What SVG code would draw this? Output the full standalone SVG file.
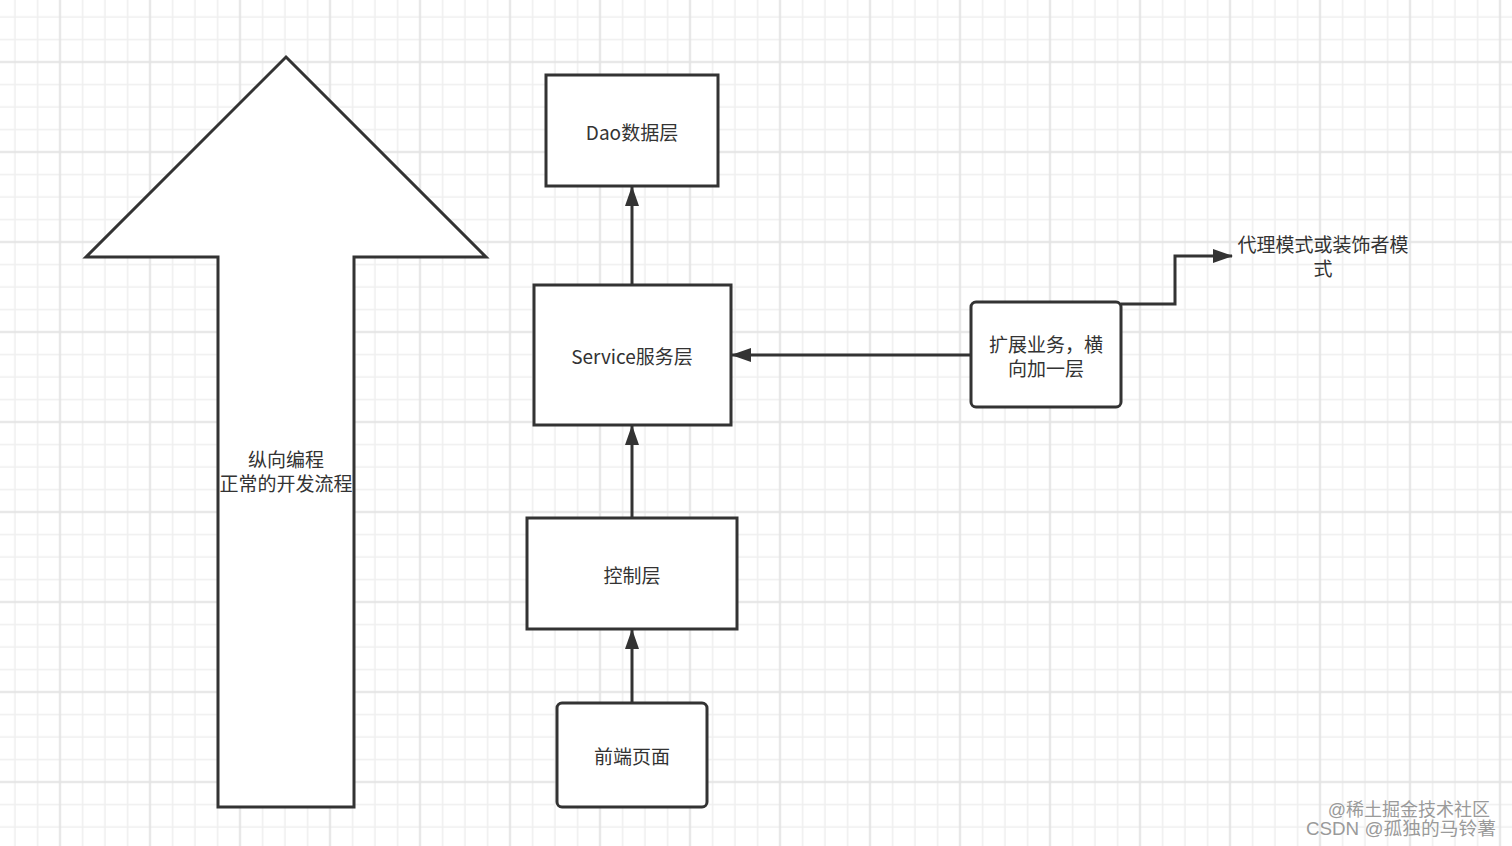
<svg xmlns="http://www.w3.org/2000/svg" width="1512" height="846" viewBox="0 0 1512 846">
<defs>
<pattern id="grid" x="48.75" y="50.75" width="90" height="90" patternUnits="userSpaceOnUse">
<path d="M33.75 0V90M56.25 0V90M78.75 0V90M0 33.75H90M0 56.25H90M0 78.75H90" stroke="#efefef" stroke-width="1.6" fill="none"/>
<path d="M11.25 0V90M0 11.25H90" stroke="#e3e3e3" stroke-width="2" fill="none"/>
</pattern>
<marker id="arr" viewBox="0 0 20 14" refX="19" refY="7" markerWidth="20" markerHeight="14" markerUnits="userSpaceOnUse" orient="auto">
<path d="M0 0L20 7L0 14Z" fill="#333"/>
</marker>
<style>
.box{fill:#fff;stroke:#333;stroke-width:3}
.lbl{font-family:"Noto Sans CJK SC","Noto Sans",sans-serif;font-size:19px;fill:#333;text-anchor:middle;dominant-baseline:central}
.edge{fill:none;stroke:#333;stroke-width:3}
.wm{font-family:"Liberation Sans","Noto Sans CJK SC",sans-serif;font-size:18px;fill:#9a9a9a;stroke:#fff;stroke-width:0.6;paint-order:stroke;text-anchor:end}
</style>
</defs>
<rect width="1512" height="846" fill="#fff"/>
<rect width="1512" height="846" fill="url(#grid)"/>

<g id="big-arrow">
<path class="box" d="M286 57L486 257H354V807H218V257H86Z"/>
<text class="lbl" x="286" y="458">纵向编程</text>
<text class="lbl" x="286" y="482">正常的开发流程</text>
</g>

<g id="dao">
<rect class="box" x="546" y="75" width="172" height="111"/>
<text class="lbl" x="632" y="131">Dao数据层</text>
</g>

<g id="service">
<rect class="box" x="534" y="285" width="197" height="140"/>
<text class="lbl" x="632" y="355">Service服务层</text>
</g>

<g id="controller">
<rect class="box" x="527" y="518" width="210" height="111"/>
<text class="lbl" x="632" y="574">控制层</text>
</g>

<g id="frontend">
<rect class="box" x="557" y="703" width="150" height="104" rx="5"/>
<text class="lbl" x="632" y="755">前端页面</text>
</g>

<g id="extend">
<rect class="box" x="971" y="302" width="150" height="105" rx="5"/>
<text class="lbl" x="1046" y="343">扩展业务，横</text>
<text class="lbl" x="1046" y="367">向加一层</text>
</g>

<g id="proxy">
<text class="lbl" x="1323" y="243">代理模式或装饰者模</text>
<text class="lbl" x="1323" y="267">式</text>
</g>

<g id="connectors">
<path class="edge" d="M632 285V187" marker-end="url(#arr)"/>
<path class="edge" d="M632 518V426" marker-end="url(#arr)"/>
<path class="edge" d="M632 703V630" marker-end="url(#arr)"/>
<path class="edge" d="M971 355H732" marker-end="url(#arr)"/>
<path class="edge" d="M1121 304H1175V256H1232" marker-end="url(#arr)"/>
</g>

<g id="watermark">
<text class="wm" x="1490" y="816">@稀土掘金技术社区</text>
<text class="wm" x="1496" y="835" textLength="190" lengthAdjust="spacingAndGlyphs">CSDN @孤独的马铃薯</text>
</g>
</svg>
